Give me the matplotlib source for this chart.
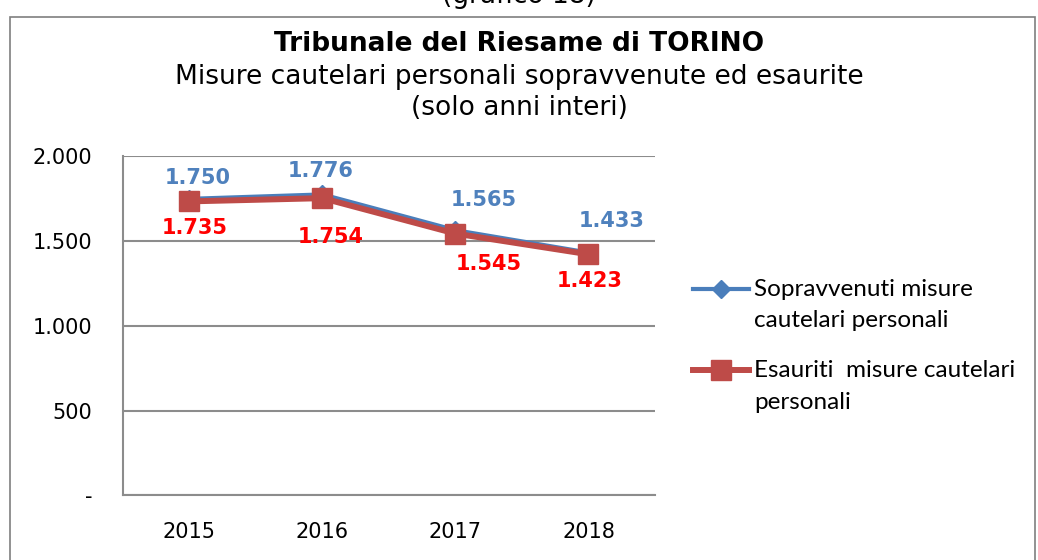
"""Tribunale del Riesame di TORINO - misure cautelari personali (grafico 18)."""

import matplotlib
matplotlib.use("Agg")
import matplotlib.pyplot as plt
from matplotlib.patches import Rectangle
from matplotlib.legend_handler import HandlerLine2D

years = ["2015", "2016", "2017", "2018"]
sopravvenuti = [1750, 1776, 1565, 1433]
esauriti = [1735, 1754, 1545, 1423]
sopr_labels = ["1.750", "1.776", "1.565", "1.433"]
esau_labels = ["1.735", "1.754", "1.545", "1.423"]
yticks = [0, 500, 1000, 1500, 2000]
ytick_labels = ["-", "500", "1.000", "1.500", "2.000"]

BLUE, RED = "#4A7EBB", "#BE4B48"
BLUE_TXT, RED_TXT = "#4F81BD", "#FF0000"
GRID = "#8C8C8C"

plt.rcParams.update({"font.family": "DejaVu Sans", "font.size": 15})


class FirstLineHandler(HandlerLine2D):
    # put the legend handle next to the first line of a two-line label
    def create_artists(self, legend, orig_handle, xdescent, ydescent,
                       width, height, fontsize, trans):
        return super().create_artists(legend, orig_handle, xdescent, ydescent,
                                      width, height + 23, fontsize, trans)


fig = plt.figure(figsize=(10.38, 5.6), dpi=100)
ax = fig.add_axes([0.1185, 0.1152, 0.5125, 0.6054])

x = list(range(len(years)))
l1, = ax.plot(x, sopravvenuti, color=BLUE, lw=3, marker="D", ms=9, zorder=3,
              label="Sopravvenuti misure\ncautelari personali")
l2, = ax.plot(x, esauriti, color=RED, lw=4.3, marker="s", ms=14, zorder=4,
              label="Esauriti  misure cautelari\npersonali")

# data labels (offsets in points)
blue_off = [(6, 15), (-1, 17), (20, 22), (17, 23)]
red_off = [(4, -19), (6, -28), (24, -22), (1, -19)]
for i in x:
    ax.annotate(sopr_labels[i], (i, sopravvenuti[i]), xytext=blue_off[i],
                textcoords="offset points", ha="center", va="center",
                color=BLUE_TXT, fontweight="bold", fontsize=15, zorder=5)
    ax.annotate(esau_labels[i], (i, esauriti[i]), xytext=red_off[i],
                textcoords="offset points", ha="center", va="center",
                color=RED_TXT, fontweight="bold", fontsize=15, zorder=5)

ax.set_xlim(-0.5, 3.5)
ax.set_ylim(0, 2000)
ax.set_xticks(x, years)
ax.set_yticks(yticks, ytick_labels)
ax.tick_params(length=0)
ax.tick_params(axis="y", pad=22)
ax.tick_params(axis="x", pad=19)
ax.grid(axis="y", color=GRID, lw=1.5)
ax.set_axisbelow(True)
for s in ("top", "right"):
    ax.spines[s].set_visible(False)
for s in ("left", "bottom"):
    ax.spines[s].set_color(GRID)
    ax.spines[s].set_linewidth(1.5)

leg = fig.legend(handles=[l1, l2], loc="upper left",
                 bbox_to_anchor=(693 / 1038, 1 - 279 / 560), frameon=False,
                 prop={"family": "Lato", "size": 17.5}, handlelength=2.3,
                 handletextpad=0.2, labelspacing=1.2, borderpad=0,
                 borderaxespad=0,
                 handler_map={l1: FirstLineHandler(), l2: FirstLineHandler()})
for t in leg.get_texts():
    t.set_linespacing(1.6)

fig.text(0.5, 1 - 44 / 560, "Tribunale del Riesame di TORINO",
         ha="center", va="center", fontsize=19, fontweight="bold")
fig.text(0.5, 1 - 77 / 560, "Misure cautelari personali sopravvenute ed esaurite",
         ha="center", va="center", fontsize=19)
fig.text(0.5, 1 - 108 / 560, "(solo anni interi)", ha="center", va="center", fontsize=19)
fig.text(0.5, 1 + 4 / 560, "(grafico 18)", ha="center", va="center", fontsize=19)

fig.patches.append(Rectangle((10 / 1038, -0.01), 1025 / 1038, 1.01 - 17 / 560,
                             transform=fig.transFigure, fill=False,
                             edgecolor="#7F7F7F", lw=1.2))

fig.savefig("out.png", dpi=100)
